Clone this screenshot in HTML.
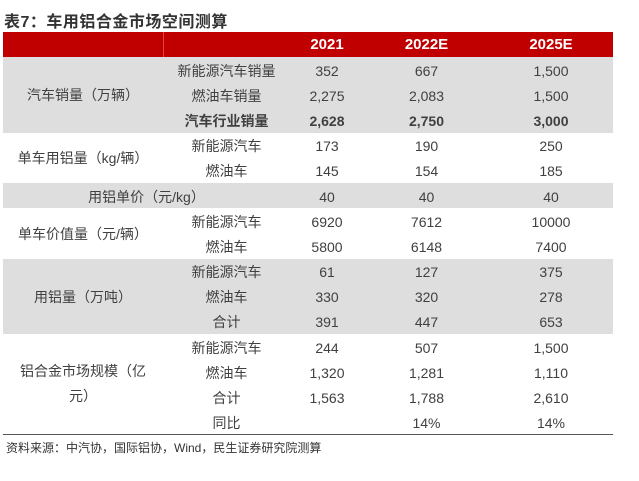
<!DOCTYPE html>
<html><head><meta charset="utf-8"><style>
body{margin:0;width:639px;height:481px;background:#fff;position:relative;font-family:"Liberation Sans","Noto Sans CJK SC",sans-serif;color:#404040;overflow:hidden}
#title{position:absolute;left:4px;top:8px;font-size:16px;font-weight:bold;color:#333;letter-spacing:0.5px}
table{position:absolute;left:3px;top:32px;border-collapse:collapse;table-layout:fixed;width:610px;font-size:14px}
td{height:25.2px;padding:0;padding-top:2px;box-sizing:border-box;text-align:center;white-space:nowrap;overflow:hidden}
tr.h td{background:#c00000;color:#fff;font-weight:bold;font-size:15px;height:25px;padding-top:0}
tr.h td:first-child{border-right:1px solid #d44}
.g td{background:#dedede}
.b{font-weight:bold}
td.c1{line-height:25px;white-space:normal}
#bot{position:absolute;left:3px;top:434px;width:610px;border-top:1px solid #555}
#src{position:absolute;left:6px;top:439px;font-size:12px;color:#333}
</style></head><body>
<div id="title">表7：车用铝合金市场空间测算</div>
<table>
<colgroup><col style="width:160px"><col style="width:127px"><col style="width:74px"><col style="width:125px"><col style="width:124px"></colgroup>
<tr class="h"><td></td><td></td><td>2021</td><td>2022E</td><td>2025E</td></tr>
<tr class="g"><td rowspan="3" class="c1">汽车销量（万辆）</td><td>新能源汽车销量</td><td>352</td><td>667</td><td>1,500</td></tr>
<tr class="g"><td>燃油车销量</td><td>2,275</td><td>2,083</td><td>1,500</td></tr>
<tr class="g b"><td>汽车行业销量</td><td>2,628</td><td>2,750</td><td>3,000</td></tr>
<tr><td rowspan="2" class="c1">单车用铝量（kg/辆）</td><td>新能源汽车</td><td>173</td><td>190</td><td>250</td></tr>
<tr><td>燃油车</td><td>145</td><td>154</td><td>185</td></tr>
<tr class="g"><td colspan="2">用铝单价（元/kg）</td><td>40</td><td>40</td><td>40</td></tr>
<tr><td rowspan="2" class="c1">单车价值量（元/辆）</td><td>新能源汽车</td><td>6920</td><td>7612</td><td>10000</td></tr>
<tr><td>燃油车</td><td>5800</td><td>6148</td><td>7400</td></tr>
<tr class="g"><td rowspan="3" class="c1">用铝量（万吨）</td><td>新能源汽车</td><td>61</td><td>127</td><td>375</td></tr>
<tr class="g"><td>燃油车</td><td>330</td><td>320</td><td>278</td></tr>
<tr class="g"><td>合计</td><td>391</td><td>447</td><td>653</td></tr>
<tr><td rowspan="4" class="c1" style="padding:0 8px">铝合金市场规模（亿元）</td><td>新能源汽车</td><td>244</td><td>507</td><td>1,500</td></tr>
<tr><td>燃油车</td><td>1,320</td><td>1,281</td><td>1,110</td></tr>
<tr><td>合计</td><td>1,563</td><td>1,788</td><td>2,610</td></tr>
<tr><td>同比</td><td></td><td>14%</td><td>14%</td></tr>
</table>
<div id="bot"></div>
<div id="src">资料来源：中汽协，国际铝协，Wind，民生证券研究院测算</div>
</body></html>
